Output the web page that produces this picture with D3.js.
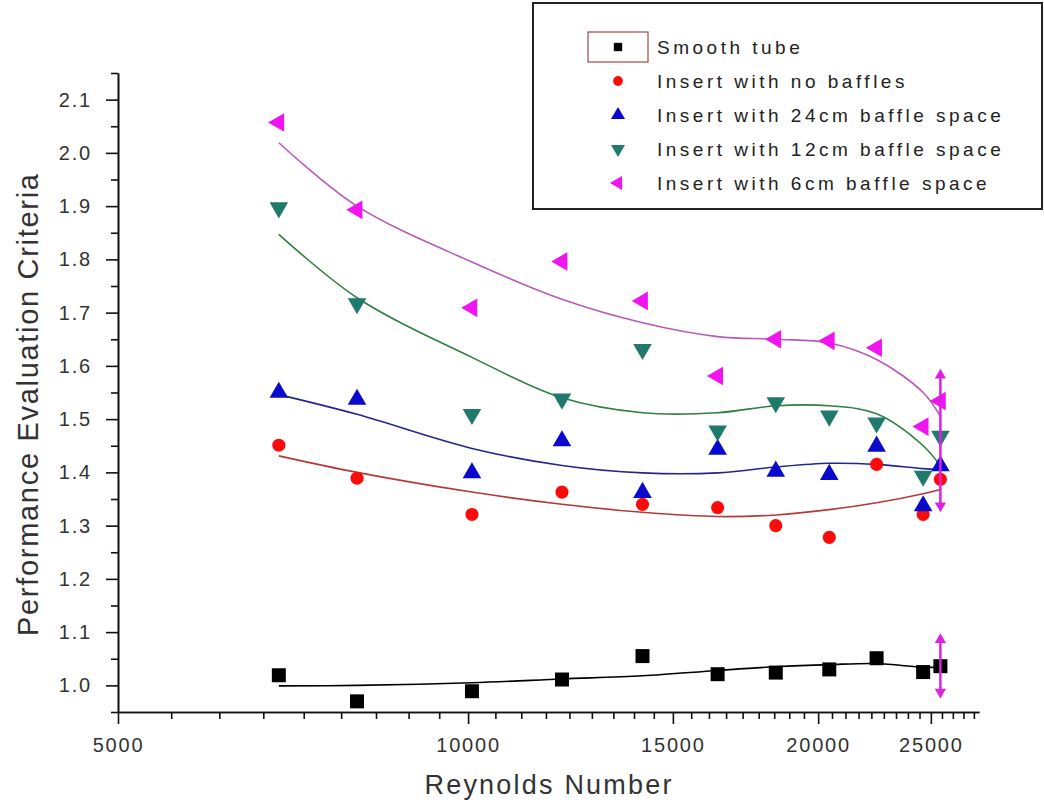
<!DOCTYPE html>
<html><head><meta charset="utf-8">
<script src="https://cdn.jsdelivr.net/npm/d3@7"></script>
<style>
body{margin:0;background:#fff;}
svg{display:block;font-family:"Liberation Sans",Arial,sans-serif;}
</style></head><body>
<svg id="chart" width="1044" height="809"></svg>
<script>
// ---- data ----
const reynolds     = [6875, 8026, 10077, 12043, 14125, 16390, 18390, 20445, 22453, 24621, 25476];
const smoothTube   = [1.019, 0.970, 0.989, 1.011, 1.055, 1.021, 1.024, 1.030, 1.051, 1.025, 1.036];
const noBaffles    = [1.451, 1.389, 1.321, 1.363, 1.340, 1.334, 1.300, 1.278, 1.415, 1.321, 1.387];
const baffle24     = [1.550, 1.537, 1.399, 1.459, 1.362, 1.443, 1.402, 1.396, 1.449, 1.337, 1.412];
const baffle12     = [1.897, 1.717, 1.509, 1.538, 1.631, 1.478, 1.531, 1.506, 1.493, 1.393, 1.468];
const baffle6      = [2.057, 1.893, 1.709, 1.796, 1.722, 1.581, 1.650, 1.647, 1.634, 1.486, 1.534];
// fitted curves at the same Reynolds numbers
const fitSmooth    = [0.999, 1.000, 1.005, 1.012, 1.018, 1.028, 1.035, 1.039, 1.041, 1.034, 1.034];
const fitNoBaffles = [1.431, 1.400, 1.363, 1.340, 1.325, 1.317, 1.320, 1.330, 1.343, 1.360, 1.368];
const fitBaffle24  = [1.546, 1.509, 1.445, 1.413, 1.399, 1.399, 1.410, 1.417, 1.415, 1.407, 1.405];
const fitBaffle12  = [1.847, 1.728, 1.616, 1.540, 1.512, 1.512, 1.525, 1.525, 1.510, 1.450, 1.412];
const fitBaffle6   = [2.019, 1.900, 1.795, 1.725, 1.681, 1.655, 1.650, 1.643, 1.612, 1.550, 1.505];
// magenta bars at the last Reynolds number
const barRe = [25476, 25476];
const barLo = [1.33, 0.98];
const barHi = [1.59, 1.093];
const seriesNames = ["Smooth tube", "Insert with no baffles", "Insert with 24cm baffle space",
                     "Insert with 12cm baffle space", "Insert with 6cm baffle space"];
const xTickValues = [5000, 10000, 15000, 20000, 25000];
const yTickValues = [1.0, 1.1, 1.2, 1.3, 1.4, 1.5, 1.6, 1.7, 1.8, 1.9, 2.0, 2.1];

// ---- styling ----
const series = [
  {name: seriesNames[0], vals: smoothTube, fit: fitSmooth,    fill: "#000000", line: "#000000", sym: d3.symbolSquare,   size: 196, rot: 0,   lsize: 70},
  {name: seriesNames[1], vals: noBaffles,  fit: fitNoBaffles, fill: "#ff0a0a", line: "#b33a3a", sym: d3.symbolCircle,   size: 135, rot: 0,   lsize: 75},
  {name: seriesNames[2], vals: baffle24,   fit: fitBaffle24,  fill: "#0a0acc", line: "#26268a", sym: d3.symbolTriangle, size: 150, rot: 0,   lsize: 85},
  {name: seriesNames[3], vals: baffle12,   fit: fitBaffle12,  fill: "#1f7a6d", line: "#2f7f3f", sym: d3.symbolTriangle, size: 150, rot: 180, lsize: 85},
  {name: seriesNames[4], vals: baffle6,    fit: fitBaffle6,   fill: "#f014f0", line: "#b85ab8", sym: d3.symbolTriangle, size: 150, rot: -90, lsize: 85}
];

const svg = d3.select("#chart");
const x = d3.scaleLog().domain([5000, 27500]).range([118, 979]);
const y = d3.scaleLinear().domain([0.95, 2.15]).range([712, 73]);

// minor ticks
const xMinor = [];
xTickValues.forEach(a => { for (let k = 1; k < 9; k++) { const v = a + k * 5000 / 9; if (v < 27500) xMinor.push(v); } });
const yMinor = d3.range(0, 13).map(i => 0.95 + i * 0.1);

function styleAxis(g) {
  g.selectAll(".domain").attr("stroke", "#111").attr("stroke-width", 1.6);
  g.selectAll(".tick line").attr("stroke", "#111").attr("stroke-width", 1.6);
  g.selectAll(".tick text").attr("fill", "#333").attr("font-size", 20)
    .attr("letter-spacing", "1.8px").attr("font-family", "'Liberation Sans', Arial, sans-serif");
}

svg.append("g").attr("transform", "translate(0,712)")
  .call(d3.axisBottom(x).tickValues(xMinor).tickSize(7).tickSizeOuter(0).tickFormat(""))
  .call(styleAxis);
svg.append("g").attr("transform", "translate(0,712)")
  .call(d3.axisBottom(x).tickValues(xTickValues).tickSize(12).tickSizeOuter(0).tickPadding(14).tickFormat(d3.format("d")))
  .call(styleAxis);
svg.append("g").attr("transform", "translate(118,0)")
  .call(d3.axisLeft(y).tickValues(yMinor).tickSize(7).tickSizeOuter(0).tickFormat(""))
  .call(styleAxis);
svg.append("g").attr("transform", "translate(118,0)")
  .call(d3.axisLeft(y).tickValues(yTickValues).tickSize(12).tickSizeOuter(0).tickPadding(14).tickFormat(d3.format(".1f")))
  .call(styleAxis);

// axis titles
svg.append("text").attr("x", 548).attr("y", 794).attr("text-anchor", "middle")
  .attr("font-size", 27).attr("fill", "#333").attr("textLength", 247).attr("lengthAdjust", "spacing")
  .text("Reynolds Number");
svg.append("text").attr("transform", "translate(38,405) rotate(-90)").attr("text-anchor", "middle")
  .attr("font-size", 29).attr("fill", "#333").attr("textLength", 462).attr("lengthAdjust", "spacing")
  .text("Performance Evaluation Criteria");

// fitted curves
const line = d3.line().x(d => x(d[0])).y(d => y(d[1])).curve(d3.curveCatmullRom);
series.forEach(s => {
  svg.append("path").datum(reynolds.map((r, i) => [r, s.fit[i]]))
    .attr("d", line).attr("fill", "none").attr("stroke", s.line).attr("stroke-width", 1.6);
});

// markers
series.forEach(s => {
  svg.append("g").selectAll("path").data(reynolds.map((r, i) => [r, s.vals[i]])).join("path")
    .attr("d", d3.symbol(s.sym, s.size))
    .attr("transform", d => `translate(${x(d[0])},${y(d[1])}) rotate(${s.rot})`)
    .attr("fill", s.fill);
});

// magenta bars
barRe.forEach((r, i) => {
  const g = svg.append("g");
  g.append("line").attr("x1", x(r)).attr("x2", x(r)).attr("y1", y(barHi[i])).attr("y2", y(barLo[i]))
    .attr("stroke", "#e020e0").attr("stroke-width", 2.5);
  g.append("path").attr("d", d3.symbol(d3.symbolTriangle, 55))
    .attr("transform", `translate(${x(r)},${y(barHi[i]) + 4})`).attr("fill", "#e020e0");
  g.append("path").attr("d", d3.symbol(d3.symbolTriangle, 55))
    .attr("transform", `translate(${x(r)},${y(barLo[i]) - 4}) rotate(180)`).attr("fill", "#e020e0");
});

// legend
const lg = svg.append("g");
lg.append("rect").attr("x", 533).attr("y", 3).attr("width", 509).attr("height", 206)
  .attr("fill", "#fff").attr("stroke", "#222").attr("stroke-width", 2);
lg.append("rect").attr("x", 588).attr("y", 32).attr("width", 60).attr("height", 30)
  .attr("fill", "none").attr("stroke", "#a04848").attr("stroke-width", 1.2);
series.forEach((s, i) => {
  const cy = 47 + i * 34;
  lg.append("path").attr("d", d3.symbol(s.sym, s.lsize))
    .attr("transform", `translate(618,${cy}) rotate(${s.rot})`).attr("fill", s.fill);
  lg.append("text").attr("x", 657).attr("y", cy + 7).attr("font-size", 19).attr("fill", "#222")
    .attr("letter-spacing", "3.5px").text(s.name);
});
</script>
</body></html>
